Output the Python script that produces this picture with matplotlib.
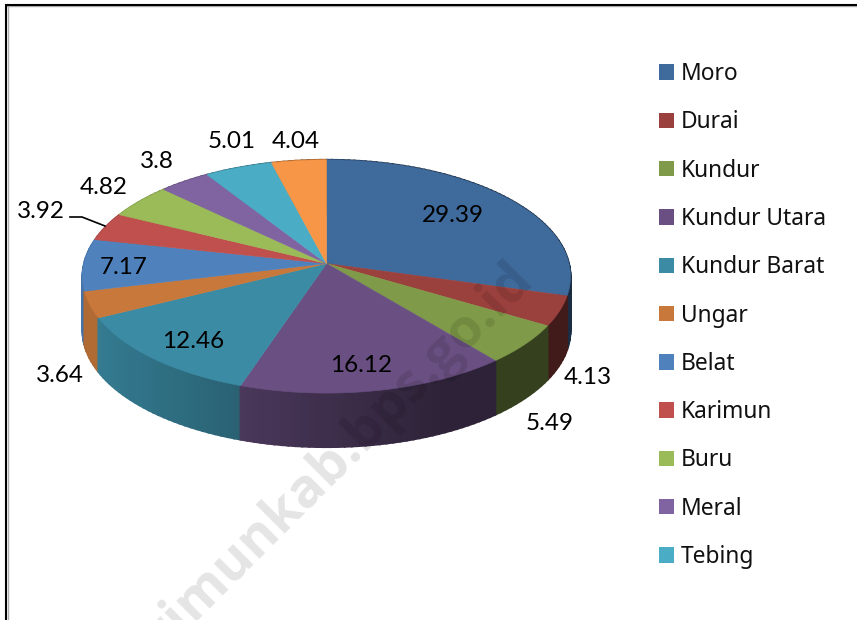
import matplotlib
matplotlib.use('Agg')
import matplotlib.pyplot as plt
from matplotlib.patches import Patch, Polygon
import numpy as np

kecamatan = ['Moro', 'Durai', 'Kundur', 'Kundur Utara', 'Kundur Barat', 'Ungar',
             'Belat', 'Karimun', 'Buru', 'Meral', 'Tebing']
values = [29.39, 4.13, 5.49, 16.12, 12.46, 3.64, 7.17, 3.92, 4.82, 3.8, 5.01, 4.04]
colors = ['#3f6a9c', '#9a403d', '#7f9a48', '#6a5082', '#3b8ba4', '#c8783a',
          '#4f81bd', '#c0504d', '#9bbb59', '#8064a2', '#4bacc6', '#f79646']

# label centres in pixels, same order as values
label_pos = [(453, 216), (588, 378), (550, 423), (361, 366), (193, 342), (60, 376),
             (124, 268), (41, 212), (104, 188), (157, 162), (232, 142), (296, 142)]

# tilted circle, apex is not the centre of the ellipse because of perspective
cx, cy = 326.5, 263.5
a, b, k = 242.5, 115.2, 0.111
depth = 54


def project(t):
    u, v = np.sin(t), -np.cos(t)
    return cx + a * u / (1 - k * v), cy + b * v / (1 - k * v)


def shade(hex_color, x):
    f = np.interp(x, [100, 240, 450], [0.88, 0.7, 0.42])
    return tuple(np.array(matplotlib.colors.to_rgb(hex_color)) * f)


fig = plt.figure(figsize=(8.57, 6.2), dpi=100)
ax = fig.add_axes([0, 0, 1, 1])
ax.set_xlim(0, 857)
ax.set_ylim(620, 0)
ax.axis('off')

edges = np.concatenate([[0], np.cumsum(values)]) / np.sum(values) * 2 * np.pi

# side wall, small quads so the shade can change along x
quads = []
for i, c in enumerate(colors):
    ts = np.linspace(edges[i], edges[i + 1], max(int((edges[i + 1] - edges[i]) * 40), 2))
    for t0, t1 in zip(ts[:-1], ts[1:]):
        x0, y0 = project(t0)
        x1, y1 = project(t1)
        quads.append(((y0 + y1) / 2, [(x0, y0), (x1, y1), (x1, y1 + depth), (x0, y0 + depth)],
                      shade(c, (x0 + x1) / 2)))
quads.sort(key=lambda q: q[0])
for _, pts, col in quads:
    ax.add_patch(Polygon(pts, closed=True, fc=col, ec=col, lw=1.4, zorder=2))

# top face
for i, c in enumerate(colors):
    ts = np.linspace(edges[i], edges[i + 1], 80)
    xs, ys = project(ts)
    pts = [(cx, cy)] + list(zip(xs, ys))
    ax.add_patch(Polygon(pts, closed=True, fc=c, ec=c, lw=0.4, zorder=3))

for v, (x, y) in zip(values, label_pos):
    ax.text(x, y, str(v), fontsize=17.5, family='Lato', color='black',
            ha='center', va='center', zorder=5)
ax.plot([70, 82, 105], [217, 217, 226], color='black', lw=1.2, zorder=4)

# frame, cut off on the right and bottom
ax.plot([8.5, 8.5], [6, 620], color='#b0b0b0', lw=1, zorder=1)
ax.plot([7, 857], [6, 6], color='#b0b0b0', lw=1, zorder=1)
ax.plot([6, 6, 857], [620, 4.5, 4.5], color='black', lw=1.5, zorder=1,
        solid_joinstyle='miter')

handles = [Patch(fc=c, ec=c, lw=0) for c in colors[:len(kecamatan)]]
leg = ax.legend(handles, kecamatan, loc='upper left', bbox_to_anchor=(659 / 857, 1 - 62 / 620),
                frameon=False, prop={'family': 'Noto Sans', 'size': 16.4},
                handlelength=0.66, handleheight=0.66, handletextpad=0.31,
                labelspacing=1.067, borderpad=0, borderaxespad=0)
for t in leg.get_texts():
    t.set_color('#111111')

ax.text(524, 270, 'https://karimunkab.bps.go.id', fontsize=39, family='Open Sans',
        weight='bold', color='black', alpha=0.105, rotation=45, rotation_mode='anchor',
        ha='right', va='center', zorder=6, clip_on=True)

fig.savefig('out.png', dpi=100)
